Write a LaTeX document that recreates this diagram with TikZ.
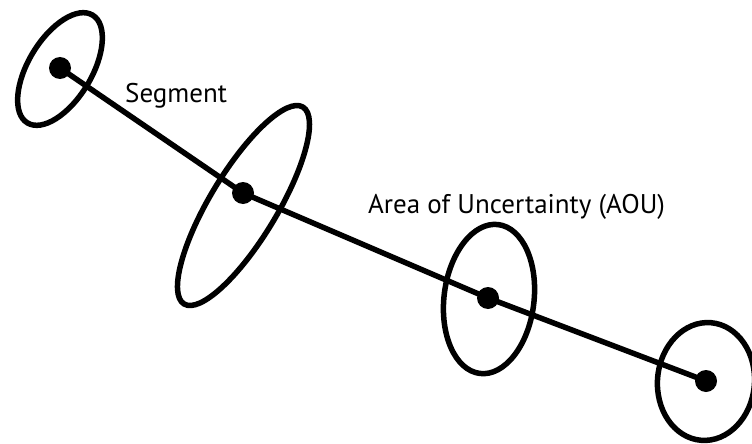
\documentclass[tikz,border=0pt]{standalone}
\usepackage{fontspec}
\setmainfont{PT Sans}
\begin{document}
\begin{tikzpicture}[x=1pt,y=1pt,
  ring/.style={line width=5.5pt,draw=black},
  dot/.style={circle,fill=black,inner sep=0pt,minimum size=22pt},
  seg/.style={line width=5.5pt,draw=black},
  lbl/.style={anchor=base west,inner sep=0pt,text=black,font=\fontsize{27}{32}\selectfont}]
\useasboundingbox (0,0) rectangle (752,-444);
\node[dot] (p1) at (60,-68) {};
\node[dot] (p2) at (243,-193) {};
\node[dot] (p3) at (488,-298) {};
\node[dot] (p4) at (706,-381) {};
\draw[seg] (p1.center) -- (p2.center) -- (p3.center) -- (p4.center);
\coordinate (e1) at (60,-69);
\coordinate (e2) at (243.5,-205.5);
\coordinate (e3) at (489,-299);
\coordinate (e4) at (706,-381.5);
\draw[ring,rotate around={58.8:(e1)}] (e1) ellipse [x radius=63, y radius=31.6];
\draw[ring,rotate around={58.9:(e2)}] (e2) ellipse [x radius=115, y radius=33.6];
\draw[ring,rotate around={-7:(e3)}] (e3) ellipse [x radius=45, y radius=75];
\draw[ring,rotate around={-5:(e4)}] (e4) ellipse [x radius=48.5, y radius=59];
\node[lbl] (t1) at (125,-102.7) {Segment};
\node[lbl] (t2) at (368,-213) {Area of Uncertainty (AOU)};
\end{tikzpicture}
\end{document}
